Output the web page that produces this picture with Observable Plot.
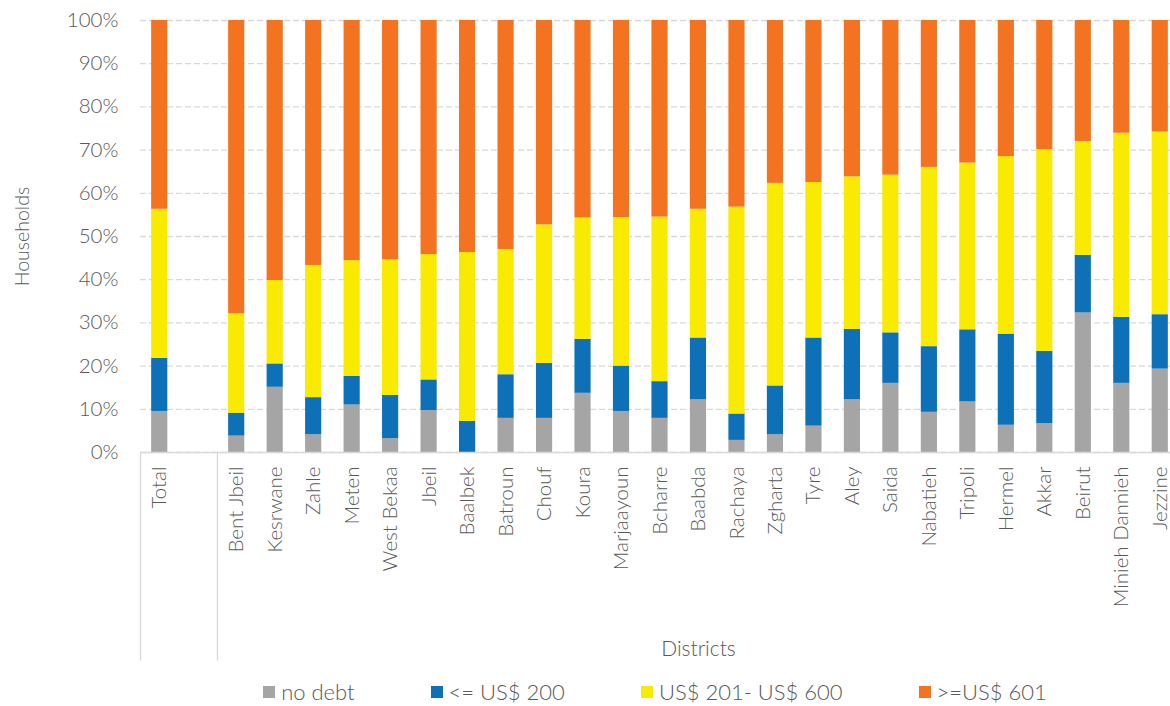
<!DOCTYPE html>
<html><head><meta charset="utf-8">
<script src="https://cdn.jsdelivr.net/npm/d3@7"></script>
<script src="https://cdn.jsdelivr.net/npm/@observablehq/plot@0.6"></script>
<style>
body{margin:0;background:#fff;font-family:Lato,"Open Sans",sans-serif;font-weight:300;color:#595959;}
#wrap{position:relative;width:1170px;height:706px;overflow:hidden;}
#chart svg{display:block;}
#legend{position:absolute;left:140px;width:1030px;top:679px;display:flex;justify-content:center;gap:76px;font-size:22px;line-height:26px;}
.item{display:flex;align-items:center;white-space:pre;}
.sw{width:12px;height:12px;margin-right:6px;}
</style></head><body><div id="wrap"><div id="chart"></div><div id="legend"></div></div>
<script>
// ---- data (percent of households) ----
const categories = ["Total","Bent Jbeil","Kesrwane","Zahle","Meten","West Bekaa","Jbeil","Baalbek","Batroun","Chouf","Koura","Marjaayoun","Bcharre","Baabda","Rachaya","Zgharta","Tyre","Aley","Saida","Nabatieh","Tripoli","Hermel","Akkar","Beirut","Minieh Dannieh","Jezzine"];
const seriesNames = ["no debt","<= US$ 200","US$ 201- US$ 600",">=US$ 601"];
const noDebt  = [9.5,3.8,15.1,4.1,11.0,3.2,9.7,0,7.9,7.9,13.7,9.5,7.9,12.2,2.8,4.1,6.1,12.2,16.0,9.3,11.7,6.3,6.7,32.3,16.0,19.3];
const upTo200 = [12.3,5.3,5.4,8.6,6.6,10.0,7.1,7.2,10.1,12.7,12.5,10.5,8.5,14.3,6.1,11.3,20.4,16.3,11.7,15.2,16.7,21.1,16.7,13.3,15.3,12.6];
const from201to600 = [34.5,23.0,19.3,30.6,26.8,31.4,29.0,39.1,29.0,32.1,28.1,34.4,38.1,29.8,47.9,46.9,36.0,35.3,36.5,41.5,38.6,41.1,46.7,26.4,42.6,42.3];
const over601 = [43.7,67.9,60.2,56.7,55.6,55.4,54.2,53.7,53.0,47.3,45.7,45.6,45.5,43.7,43.2,37.7,37.5,36.2,35.8,34.0,33.0,31.5,29.9,28.0,26.1,25.8];
const yTickValues = [0,10,20,30,40,50,60,70,80,90,100];
const seriesColors = ["#a5a5a5","#0e71b8","#f8ea00","#f37321"];

const seriesValues = [noDebt, upTo200, from201to600, over601];
const rows = seriesNames.flatMap((s, si) => categories.map((c, ci) => ({cat: c, series: s, value: seriesValues[si][ci] / 100})));
const BLANK = " ";
const xDomain = ["Total", BLANK, ...categories.slice(1)];
const W = 1170, H = 665;
const xRange = [140, 1179];
const step = (xRange[1] - xRange[0]) / xDomain.length;
const ticks = yTickValues.map(v => v / 100);

const chart = Plot.plot({
  width: W, height: H,
  marginLeft: 140, marginRight: 0, marginTop: 20, marginBottom: H - 452,
  style: {fontFamily: "Lato, 'Open Sans', sans-serif", fontWeight: 300, fontSize: "20.5px", color: "#595959", background: "#fff", overflow: "visible"},
  x: {domain: xDomain, range: xRange, paddingInner: 0.58, paddingOuter: 0.29, round: false},
  y: {domain: [0, 1]},
  color: {domain: seriesNames, range: seriesColors},
  marks: [
    Plot.gridY(ticks, {stroke: "#d9d9d9", strokeOpacity: 1, strokeWidth: 1.3, strokeDasharray: "6,3"}),
    Plot.axisY(ticks, {tickSize: 0, tickPadding: 22, tickFormat: d => Math.round(d * 100) + "%", label: null, fontSize: 20.5}),
    Plot.barY(rows, {x: "cat", y: "value", fill: "series", order: seriesNames}),
    Plot.ruleY([0], {stroke: "#d9d9d9", strokeWidth: 1.5}),
    Plot.ruleX(["Total", "Bent Jbeil"], {x: d => d, dx: -step / 2, y1: 0, y2: -0.483, stroke: "#d9d9d9", strokeWidth: 1.3}),
    Plot.axisX({tickRotate: -90, tickSize: 0, tickPadding: 14, tickFormat: d => d === BLANK ? "" : d, label: null, fontSize: 20.5}),
    Plot.text(["Districts"], {x: () => "Baabda", y: () => -0.455, text: d => d, fontSize: 21, fill: "#595959"}),
    Plot.text(["Households"], {frameAnchor: "left", y: () => 0.5, dx: -118, rotate: -90, text: d => d, fontSize: 19.5, fill: "#595959", textAnchor: "middle"})
  ]
});
document.getElementById("chart").appendChild(chart);

const legend = document.getElementById("legend");
seriesNames.forEach((s, i) => {
  const item = document.createElement("div");
  item.className = "item";
  const sw = document.createElement("span");
  sw.className = "sw";
  sw.style.background = seriesColors[i];
  const t = document.createElement("span");
  t.textContent = s;
  item.appendChild(sw); item.appendChild(t);
  legend.appendChild(item);
});
</script></body></html>
